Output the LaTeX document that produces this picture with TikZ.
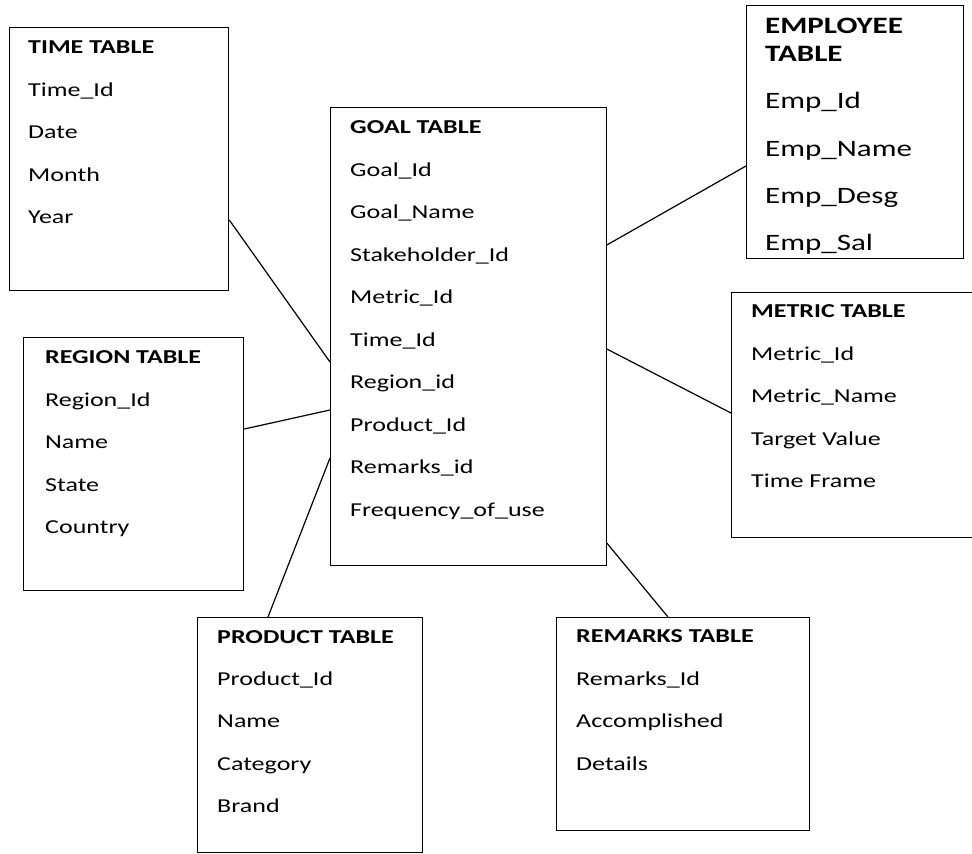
\documentclass[tikz,border=0pt]{standalone}
\usepackage{fontspec}
\setmainfont{Carlito}[FakeStretch=1.32]
\begin{document}
\begin{tikzpicture}[x=1pt,y=-1pt,
  tblbox/.style={draw=black, line width=1.3pt, inner sep=0pt, anchor=north west, rectangle},
  link/.style={draw=black, line width=1.2pt},
  title/.style={anchor=base west, inner sep=0pt, font=\fontsize{19.7}{24}\selectfont\bfseries},
  field/.style={anchor=base west, inner sep=0pt, font=\fontsize{19.7}{24}\selectfont},
  bigtitle/.style={anchor=base west, inner sep=0pt, font=\fontsize{23.5}{28}\selectfont\bfseries},
  bigfield/.style={anchor=base west, inner sep=0pt, font=\fontsize{23.5}{28}\selectfont}]
\useasboundingbox (0,0) rectangle (972,854);
\clip (0,0) rectangle (972,854);
\fill[white] (0,0) rectangle (972,854);

% table frames
\node[tblbox, minimum width=219, minimum height=263] (time) at (9,27) {};
\node[tblbox, minimum width=275.5, minimum height=458] (goal) at (330,107) {};
\node[tblbox, minimum width=217, minimum height=253] (emp) at (746,5) {};
\node[tblbox, minimum width=220, minimum height=253] (region) at (23,337) {};
\node[tblbox, minimum width=262, minimum height=245] (metric) at (731,292) {};
\node[tblbox, minimum width=225, minimum height=235] (product) at (197,617) {};
\node[tblbox, minimum width=253, minimum height=213] (remarks) at (556,617) {};

% TIME TABLE
\node[title] (timeT) at (28,53) {TIME TABLE};
\node[field] (time1) at (28,96) {Time\_Id};
\node[field] (time2) at (28,138.5) {Date};
\node[field] (time3) at (28,181) {Month};
\node[field] (time4) at (28,223.5) {Year};

% GOAL TABLE
\node[title] (goalT) at (350,133) {GOAL TABLE};
\node[field] (goal1) at (350,176) {Goal\_Id};
\node[field] (goal2) at (350,218.5) {Goal\_Name};
\node[field] (goal3) at (350,261) {Stakeholder\_Id};
\node[field] (goal4) at (350,303.5) {Metric\_Id};
\node[field] (goal5) at (350,346) {Time\_Id};
\node[field] (goal6) at (350,388.5) {Region\_id};
\node[field] (goal7) at (350,431) {Product\_Id};
\node[field] (goal8) at (350,473.5) {Remarks\_id};
\node[field] (goal9) at (350,516) {Frequency\_of\_use};

% EMPLOYEE TABLE
\node[bigtitle] (empT1) at (765,33) {EMPLOYEE};
\node[bigtitle] (empT2) at (765,61) {TABLE};
\node[bigfield] (emp1) at (765,108) {Emp\_Id};
\node[bigfield] (emp2) at (765,156) {Emp\_Name};
\node[bigfield] (emp3) at (765,203.5) {Emp\_Desg};
\node[bigfield] (emp4) at (765,250) {Emp\_Sal};

% REGION TABLE
\node[title] (regionT) at (45,363) {REGION TABLE};
\node[field] (region1) at (45,406) {Region\_Id};
\node[field] (region2) at (45,448.5) {Name};
\node[field] (region3) at (45,491) {State};
\node[field] (region4) at (45,533.5) {Country};

% METRIC TABLE
\node[title] (metricT) at (751,317) {METRIC TABLE};
\node[field] (metric1) at (751,360) {Metric\_Id};
\node[field] (metric2) at (751,402.5) {Metric\_Name};
\node[field] (metric3) at (751,445) {Target Value};
\node[field] (metric4) at (751,487.5) {Time Frame};

% PRODUCT TABLE
\node[title] (productT) at (217,643) {PRODUCT TABLE};
\node[field] (product1) at (217,685) {Product\_Id};
\node[field] (product2) at (217,727.5) {Name};
\node[field] (product3) at (217,770) {Category};
\node[field] (product4) at (217,812.5) {Brand};

% REMARKS TABLE
\node[title] (remarksT) at (576,642) {REMARKS TABLE};
\node[field] (remarks1) at (576,685) {Remarks\_Id};
\node[field] (remarks2) at (576,727.5) {Accomplished};
\node[field] (remarks3) at (576,770) {Details};

% relationships
\draw[link] (time.east |- 0,220) -- (goal.west |- 0,362);
\draw[link] (region.east |- 0,429) -- (goal.west |- 0,410);
\draw[link] (goal.west |- 0,458) -- (product.north -| 268,0);
\draw[link] (goal.east |- 0,245) -- (emp.west |- 0,166);
\draw[link] (goal.east |- 0,349) -- (metric.west |- 0,413);
\draw[link] (goal.east |- 0,543) -- (remarks.north -| 668,0);
\end{tikzpicture}
\end{document}
